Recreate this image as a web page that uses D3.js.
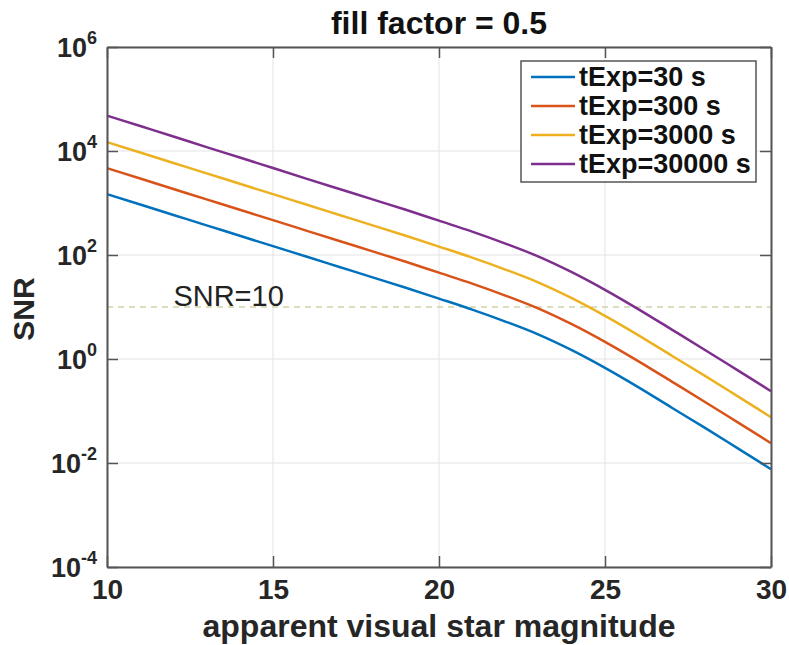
<!DOCTYPE html>
<html>
<head>
<meta charset="utf-8">
<script src="https://cdn.jsdelivr.net/npm/d3@7"></script>
<style>
  body { margin: 0; background: #fff; }
  svg { display: block; font-family: "Liberation Sans", Arial, Helvetica, sans-serif; }
</style>
</head>
<body>
<div id="chart"></div>
<script>
// magnitudes sampled along the x axis
const magnitudes = [10, 11, 12, 13, 14, 15, 16, 17, 18, 19, 20, 21, 22, 23, 24, 25, 26, 27, 28, 29, 30];

// SNR, one array per exposure time
const snr30 = [1479, 933, 589, 372, 234, 148, 93.3, 58.9, 37.2, 23.4, 14.5, 8.91, 5.25, 2.95, 1.48, 0.676, 0.288, 0.117, 0.0479, 0.0191, 0.00759];
const snr300 = [4677, 2951, 1862, 1175, 741, 468, 295, 186, 117.5, 74.1, 45.7, 28.2, 16.6, 9.33, 4.68, 2.14, 0.912, 0.372, 0.151, 0.0603, 0.024];
const snr3000 = [14790, 9330, 5890, 3720, 2340, 1480, 933, 589, 372, 234, 145, 89.1, 52.5, 29.5, 14.8, 6.76, 2.88, 1.17, 0.479, 0.191, 0.0759];
const snr30000 = [48000, 30200, 19000, 11900, 7500, 4700, 2950, 1860, 1175, 741, 457, 282, 166, 93.3, 46.8, 21.4, 9.12, 3.72, 1.51, 0.603, 0.24];

const seriesNames = ['tExp=30 s', 'tExp=300 s', 'tExp=3000 s', 'tExp=30000 s'];
const seriesColors = ['#0072BD', '#D95319', '#EDB120', '#7E2F8E'];

const xTicks = [10, 15, 20, 25, 30];
const yTickExps = [-4, -2, 0, 2, 4, 6];
const snrLimit = 10;

const width = 789, height = 645;
const margin = { top: 47, right: 18, bottom: 78, left: 107 };
const plotW = width - margin.left - margin.right;
const plotH = height - margin.top - margin.bottom;

const svg = d3.select('#chart').append('svg')
    .attr('width', width)
    .attr('height', height);

const x = d3.scaleLinear().domain([10, 30]).range([margin.left, margin.left + plotW]);
const y = d3.scaleLog().domain([1e-4, 1e6]).range([margin.top + plotH, margin.top]);

// grid
const grid = svg.append('g').attr('stroke', '#e3e3e3').attr('stroke-width', 1);
grid.selectAll('.gx').data(xTicks).join('line')
    .attr('x1', d => x(d)).attr('x2', d => x(d))
    .attr('y1', margin.top).attr('y2', margin.top + plotH);
grid.selectAll('.gy').data(yTickExps).join('line')
    .attr('x1', margin.left).attr('x2', margin.left + plotW)
    .attr('y1', d => y(Math.pow(10, d))).attr('y2', d => y(Math.pow(10, d)));

// SNR = 10 reference line
svg.append('line')
    .attr('x1', margin.left).attr('x2', margin.left + plotW)
    .attr('y1', y(snrLimit)).attr('y2', y(snrLimit))
    .attr('stroke', '#d0d4a6')
    .attr('stroke-width', 1.5)
    .attr('stroke-dasharray', '6,5');

svg.append('text')
    .attr('x', x(12))
    .attr('y', y(snrLimit) - 1)
    .attr('font-size', 29)
    .attr('fill', '#222')
    .text('SNR=10');

// curves
const allSeries = [snr30, snr300, snr3000, snr30000];
const line = d3.line()
    .x((d, i) => x(magnitudes[i]))
    .y(d => y(d))
    .curve(d3.curveMonotoneX);

svg.append('g').selectAll('path').data(allSeries).join('path')
    .attr('d', line)
    .attr('fill', 'none')
    .attr('stroke', (d, i) => seriesColors[i])
    .attr('stroke-width', 2.5);

// axes box with inward ticks
const frameColor = '#555';
const xAxisBottom = d3.axisBottom(x).tickValues(xTicks).tickSizeInner(-11).tickSizeOuter(0).tickPadding(12);
const xAxisTop = d3.axisTop(x).tickValues(xTicks).tickSizeInner(-11).tickSizeOuter(0).tickFormat('');
const yAxisLeft = d3.axisLeft(y).tickValues(yTickExps.map(e => Math.pow(10, e))).tickSizeInner(-11).tickSizeOuter(0).tickFormat('');
const yAxisRight = d3.axisRight(y).tickValues(yTickExps.map(e => Math.pow(10, e))).tickSizeInner(-11).tickSizeOuter(0).tickFormat('');

const gxb = svg.append('g').attr('transform', `translate(0,${margin.top + plotH})`).call(xAxisBottom);
svg.append('g').attr('transform', `translate(0,${margin.top})`).call(xAxisTop);
svg.append('g').attr('transform', `translate(${margin.left},0)`).call(yAxisLeft);
svg.append('g').attr('transform', `translate(${margin.left + plotW},0)`).call(yAxisRight);

svg.selectAll('.domain').attr('stroke', frameColor).attr('stroke-width', 2);
svg.selectAll('.tick line').attr('stroke', frameColor).attr('stroke-width', 1.5);

gxb.selectAll('.tick text')
    .attr('font-size', 28)
    .attr('font-weight', 'bold')
    .attr('fill', '#262626')
    .attr('font-family', '"Liberation Sans", Arial, sans-serif');

// y tick labels as 10^n
const yLab = svg.append('g');
yTickExps.forEach(e => {
    const t = yLab.append('text')
        .attr('x', margin.left - 10)
        .attr('y', y(Math.pow(10, e)) + 10)
        .attr('text-anchor', 'end')
        .attr('font-size', 27)
        .attr('font-weight', 'bold')
        .attr('fill', '#262626');
    t.append('tspan').text('10');
    t.append('tspan')
        .attr('font-size', 18)
        .attr('dy', -13)
        .text(e < 0 ? '-' + Math.abs(e) : String(e));
});

// title and axis labels
svg.append('text')
    .attr('x', margin.left + plotW / 2)
    .attr('y', 34)
    .attr('text-anchor', 'middle')
    .attr('font-size', 32)
    .attr('font-weight', 'bold')
    .attr('fill', '#111')
    .text('fill factor = 0.5');

svg.append('text')
    .attr('x', margin.left + plotW / 2)
    .attr('y', 637)
    .attr('text-anchor', 'middle')
    .attr('font-size', 32)
    .attr('font-weight', 'bold')
    .attr('fill', '#262626')
    .text('apparent visual star magnitude');

svg.append('text')
    .attr('transform', `translate(34,${margin.top + plotH / 2 + 2}) rotate(-90)`)
    .attr('text-anchor', 'middle')
    .attr('font-size', 30)
    .attr('font-weight', 'bold')
    .attr('fill', '#262626')
    .text('SNR');

// legend
const legend = svg.append('g').attr('transform', 'translate(521,61)');
legend.append('rect')
    .attr('width', 235).attr('height', 121)
    .attr('fill', '#fff')
    .attr('stroke', '#555')
    .attr('stroke-width', 1.5);
const rows = legend.selectAll('g').data(seriesNames).join('g')
    .attr('transform', (d, i) => `translate(0,${16 + i * 29})`);
rows.append('line')
    .attr('x1', 10).attr('x2', 54)
    .attr('stroke', (d, i) => seriesColors[i])
    .attr('stroke-width', 2.5);
rows.append('text')
    .attr('x', 58)
    .attr('y', 9)
    .attr('font-size', 27)
    .attr('font-weight', 'bold')
    .attr('fill', '#111')
    .text(d => d);
</script>
</body>
</html>
